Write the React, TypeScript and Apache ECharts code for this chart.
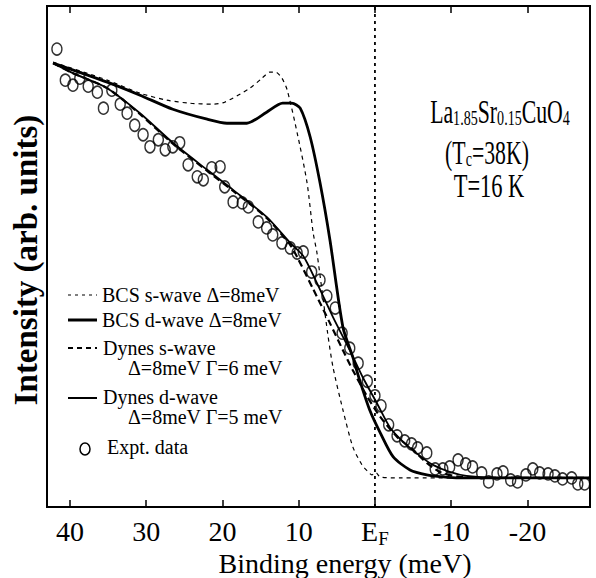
import React, { useEffect, useRef } from 'react';
import * as echarts from 'echarts';

const FONT = '"Liberation Serif", "Times New Roman", serif';

// x axis: binding energy (meV), inverted
const xMin = -28.2;
const xMax = 43;
const xTicks = [40, 30, 20, 10, 0, -10, -20];

// experimental data [binding energy meV, intensity arb.]
const exptData: [number, number][] = [
  [41.7, 91.4], [40.6, 85.2], [39.6, 84.2], [38.7, 85.6], [37.6, 84.0], [36.4, 82.8], [35.6, 79.6],
  [34.5, 83.2], [33.4, 80.4], [32.5, 78.6], [31.5, 76.2], [30.4, 74.3], [29.5, 71.9], [28.4, 73.3],
  [27.5, 71.3], [26.5, 71.9], [25.6, 72.7], [24.5, 68.3], [23.3, 65.9], [22.5, 65.3], [21.4, 67.7],
  [20.3, 67.9], [19.7, 63.9], [18.6, 60.9], [17.4, 60.7], [16.6, 59.9], [15.3, 56.9], [14.2, 55.7],
  [13.4, 54.3], [12.2, 52.7], [11.1, 51.7], [10.2, 50.7], [9.4, 50.9], [8.3, 46.9], [7.2, 45.3],
  [6.3, 42.1], [5.2, 39.7], [4.3, 34.7], [3.3, 31.7], [2.2, 28.7], [1.0, 25.1], [0.0, 22.2],
  [-0.8, 20.2], [-1.8, 16.4], [-2.9, 14.2], [-3.9, 13.2], [-4.8, 12.6], [-5.6, 11.8], [-6.8, 10.8],
  [-7.9, 7.6], [-8.9, 7.6], [-9.8, 8.0], [-10.9, 9.4], [-11.9, 8.6], [-12.8, 8.0], [-14.0, 6.8],
  [-14.9, 5.0], [-16.0, 6.6], [-16.8, 7.0], [-17.8, 5.4], [-18.7, 5.0], [-19.8, 6.4], [-20.7, 7.6],
  [-21.6, 6.8], [-22.7, 6.6], [-23.6, 6.2], [-24.6, 5.6], [-25.8, 5.8], [-26.6, 4.6], [-27.5, 4.6],
];

const bcsSWave: [number, number][] = [
  [42.2, 88.8], [35.1, 85.2], [30.8, 82.6], [27.3, 81.2], [24.3, 80.6], [21.3, 80.4], [19.7, 80.8],
  [16.4, 83.6], [14.8, 85.6], [13.8, 86.8], [13.0, 86.8], [12.2, 85.6], [11.5, 83.2], [10.2, 74.7],
  [8.9, 64.7], [8.1, 54.7], [7.6, 50.7], [6.2, 34.7], [5.5, 27.9], [4.2, 19.4], [2.9, 12.0],
  [1.7, 8.4], [1.0, 7.2], [0.4, 6.4], [-0.1, 6.9], [-0.7, 6.0], [-3.3, 5.8], [-28.2, 5.8],
];

const bcsDWave: [number, number][] = [
  [42.2, 88.6], [35.1, 84.8], [30.8, 82.2], [26.5, 79.4], [22.0, 77.4], [19.4, 76.6], [16.8, 76.6],
  [14.2, 78.8], [12.1, 80.6], [10.9, 80.6], [9.8, 79.6], [8.5, 73.9], [7.2, 64.7], [5.9, 53.3],
  [4.2, 35.9], [2.9, 29.9], [2.0, 25.3], [0.7, 19.4], [-0.7, 14.8], [-2.4, 10.0], [-4.6, 7.4],
  [-6.8, 6.4], [-8.9, 6.0], [-11.1, 5.8], [-28.2, 5.8],
];

const dynesSWave: [number, number][] = [
  [42.2, 88.6], [39.6, 86.6], [35.1, 83.6], [30.8, 78.4], [26.5, 72.5], [22.0, 67.1], [18.6, 63.1],
  [14.2, 57.7], [11.1, 52.3], [10.2, 49.9], [8.1, 43.5], [5.9, 36.7], [4.2, 31.3], [2.9, 27.3],
  [1.0, 22.0], [-0.7, 18.0], [-2.9, 14.0], [-5.0, 11.4], [-6.8, 8.8], [-8.5, 7.0], [-11.1, 6.0],
  [-16.4, 5.8], [-28.2, 5.8],
];

const dynesDWave: [number, number][] = [
  [42.2, 88.6], [39.6, 86.6], [35.1, 83.6], [30.8, 78.6], [26.5, 72.7], [22.0, 67.3], [18.6, 63.3],
  [14.2, 57.9], [11.1, 52.7], [9.4, 50.1], [7.6, 44.7], [5.5, 37.9], [3.3, 31.3], [1.6, 25.9],
  [-0.3, 20.6], [-2.0, 15.8], [-3.7, 13.0], [-5.9, 10.2], [-7.6, 8.4], [-9.8, 7.0], [-12.0, 6.2],
  [-16.4, 5.8], [-28.2, 5.8],
];

const fermiLine: [number, number][] = [[0, 0], [0, 100]];

const legendLabels = [
  'BCS s-wave Δ=8meV',
  'BCS d-wave Δ=8meV',
  'Dynes s-wave',
  'Δ=8meV Γ=6 meV',
  'Dynes d-wave',
  'Δ=8meV Γ=5 meV',
  'Expt. data',
];

export default function App() {
  const ref = useRef<HTMLDivElement>(null);

  useEffect(() => {
    if (!ref.current) return;
    const chart = echarts.init(ref.current, undefined, { renderer: 'svg' });

    const txt = (x: number, y: number, text: string, extra: any = {}) => ({
      type: 'text',
      x,
      y,
      style: {
        text,
        fontFamily: FONT,
        fontSize: 20,
        fill: '#000',
        align: 'left',
        textAlign: 'left',
        verticalAlign: 'middle',
        textVerticalAlign: 'middle',
        ...extra,
      },
    });
    const seg = (y: number, lineWidth: number, lineDash?: number[]) => ({
      type: 'line',
      shape: { x1: 68, y1: y, x2: 97, y2: y },
      style: { stroke: '#000', lineWidth, lineDash: lineDash || null },
    });

    const lineSeries = (data: [number, number][], width: number, dash: any) => ({
      type: 'line',
      data,
      showSymbol: false,
      smooth: 0.25,
      lineStyle: { color: '#000', width, type: dash },
      z: 3,
    });

    chart.setOption({
      animation: false,
      backgroundColor: '#fff',
      grid: {
        left: 47,
        right: 6,
        top: 6,
        bottom: 71,
        show: true,
        borderColor: '#000',
        borderWidth: 2,
        backgroundColor: 'transparent',
      },
      xAxis: [
        {
          type: 'value',
          min: xMin,
          max: xMax,
          inverse: true,
          position: 'bottom',
          axisLine: { show: false },
          splitLine: { show: false },
          axisTick: {
            show: true,
            inside: true,
            length: 7,
            customValues: xTicks,
            lineStyle: { color: '#000', width: 1.5 },
          },
          axisLabel: {
            show: true,
            customValues: xTicks,
            margin: 10,
            color: '#000',
            fontFamily: FONT,
            fontSize: 28,
            formatter: (v: number) => (v === 0 ? '{e|E}{f|F}' : String(v)),
            rich: {
              e: { fontFamily: FONT, fontSize: 28, color: '#000', verticalAlign: 'bottom' },
              f: { fontFamily: FONT, fontSize: 19, color: '#000', verticalAlign: 'bottom', padding: [0, 0, -3, 0] },
            },
          },
        },
        {
          type: 'value',
          min: xMin,
          max: xMax,
          inverse: true,
          position: 'top',
          axisLine: { show: false },
          splitLine: { show: false },
          axisTick: {
            show: true,
            inside: true,
            length: 7,
            customValues: xTicks,
            lineStyle: { color: '#000', width: 1.5 },
          },
          axisLabel: { show: false },
        },
      ],
      yAxis: {
        type: 'value',
        min: 0,
        max: 100,
        axisLine: { show: false },
        axisTick: { show: false },
        axisLabel: { show: false },
        splitLine: { show: false },
      },
      series: [
        {
          type: 'line',
          data: fermiLine,
          showSymbol: false,
          lineStyle: { color: '#000', width: 1.8, type: [3, 4] },
          z: 2,
        },
        lineSeries(bcsSWave, 1.2, [4, 4]),
        lineSeries(bcsDWave, 2.8, 'solid'),
        lineSeries(dynesSWave, 2.2, [7, 4]),
        lineSeries(dynesDWave, 1.8, 'solid'),
        {
          type: 'scatter',
          data: exptData,
          symbol: 'circle',
          symbolSize: [10, 12],
          itemStyle: { color: 'transparent', borderColor: '#000', borderWidth: 1.5 },
          z: 4,
        },
      ],
      graphic: [
        // legend
        seg(295, 1.2, [3, 4]),
        txt(102, 295, legendLabels[0]),
        seg(320, 3),
        txt(102, 320, legendLabels[1]),
        seg(348, 2.2, [5, 4]),
        txt(103, 347.5, legendLabels[2]),
        txt(128, 368, legendLabels[3]),
        seg(398, 2),
        txt(103, 396.5, legendLabels[4]),
        txt(128, 417, legendLabels[5]),
        {
          type: 'ellipse',
          shape: { cx: 85, cy: 449, rx: 5, ry: 6 },
          style: { fill: 'transparent', stroke: '#000', lineWidth: 1.5 },
        },
        txt(107, 447, legendLabels[6]),
        // annotation
        {
          type: 'text',
          x: 500,
          y: 112,
          scaleX: 0.64,
          style: {
            text: '{n|La}{s|1.85}{n|Sr}{s|0.15}{n|CuO}{s|4}',
            align: 'center',
            textAlign: 'center',
            verticalAlign: 'middle',
            textVerticalAlign: 'middle',
            fill: '#000',
            rich: {
              n: { fontFamily: FONT, fontSize: 34, fill: '#000', color: '#000', verticalAlign: 'bottom' },
              s: { fontFamily: FONT, fontSize: 22, fill: '#000', color: '#000', verticalAlign: 'bottom' },
            },
          },
        },
        {
          type: 'text',
          x: 487,
          y: 153,
          scaleX: 0.64,
          style: {
            text: '{n|(T}{s|c}{n|=38K)}',
            align: 'center',
            textAlign: 'center',
            verticalAlign: 'middle',
            textVerticalAlign: 'middle',
            fill: '#000',
            rich: {
              n: { fontFamily: FONT, fontSize: 34, fill: '#000', color: '#000', verticalAlign: 'bottom' },
              s: { fontFamily: FONT, fontSize: 22, fill: '#000', color: '#000', verticalAlign: 'bottom' },
            },
          },
        },
        {
          type: 'text',
          x: 489,
          y: 185,
          scaleX: 0.66,
          style: {
            text: 'T=16 K',
            fontFamily: FONT,
            fontSize: 34,
            fill: '#000',
            align: 'center',
            textAlign: 'center',
            verticalAlign: 'middle',
            textVerticalAlign: 'middle',
          },
        },
        // axis titles
        {
          type: 'text',
          x: 26,
          y: 260,
          rotation: Math.PI / 2,
          style: {
            text: 'Intensity (arb. units)',
            fontFamily: FONT,
            fontSize: 33,
            fontWeight: 'bold',
            fill: '#000',
            align: 'center',
            textAlign: 'center',
            verticalAlign: 'middle',
            textVerticalAlign: 'middle',
          },
        },
        {
          type: 'text',
          x: 345,
          y: 563,
          style: {
            text: 'Binding energy (meV)',
            fontFamily: FONT,
            fontSize: 28,
            fill: '#000',
            align: 'center',
            textAlign: 'center',
            verticalAlign: 'middle',
            textVerticalAlign: 'middle',
          },
        },
      ],
    });

    return () => chart.dispose();
  }, []);

  return (
    <div
      ref={ref}
      style={{ position: 'absolute', left: 0, top: 0, width: 596, height: 578, background: '#fff' }}
    />
  );
}
